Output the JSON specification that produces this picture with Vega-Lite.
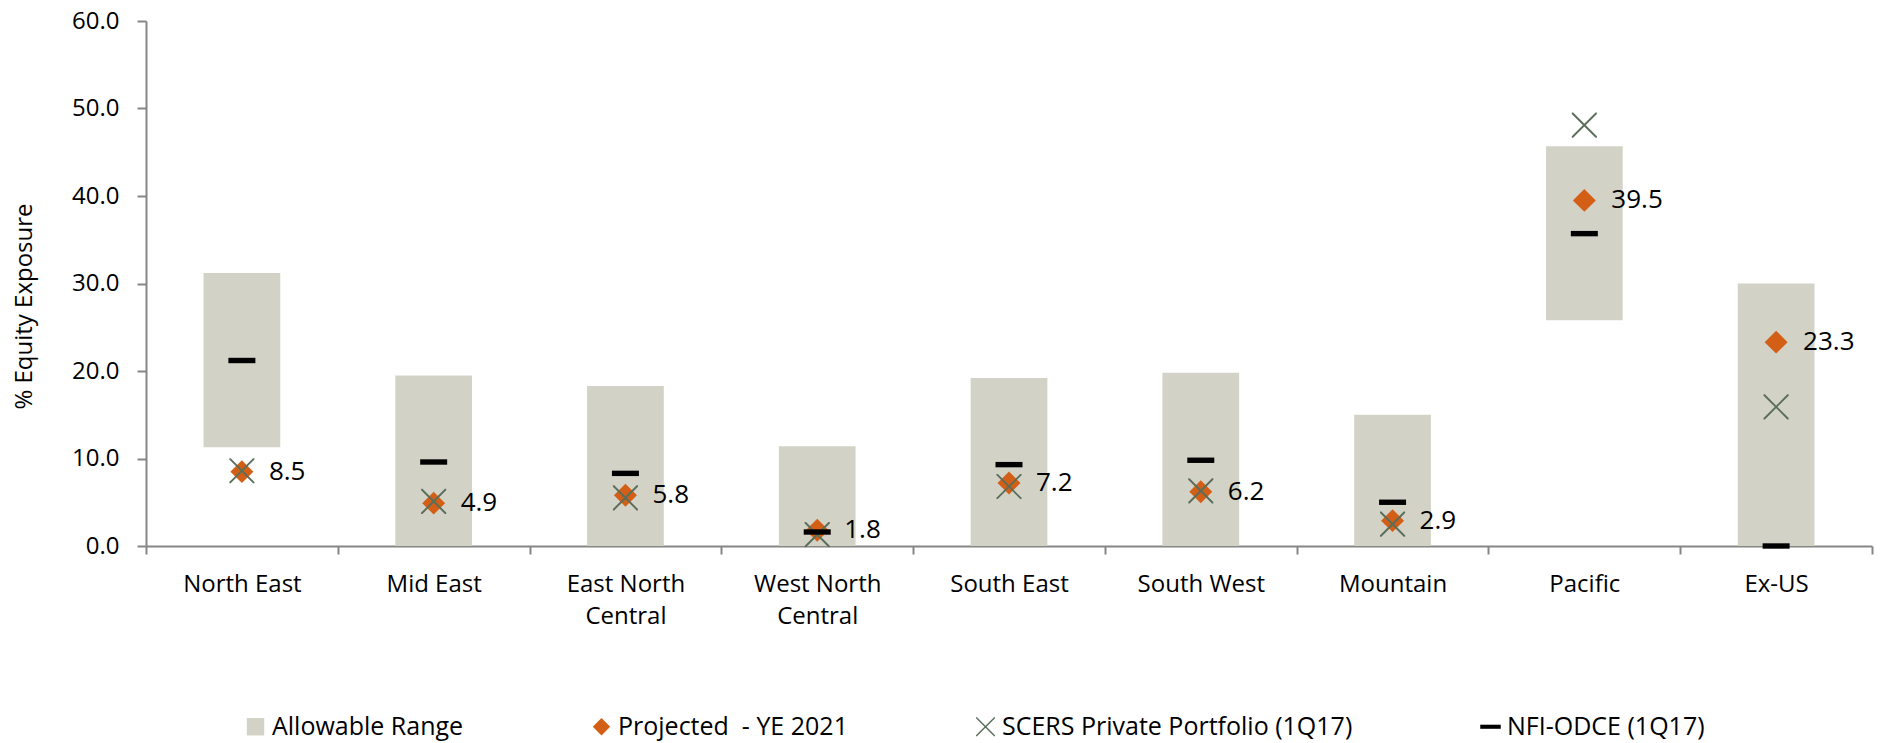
{
  "$schema": "https://vega.github.io/schema/vega-lite/v6.json",
  "width": 1726,
  "height": 525,
  "autosize": {"type": "none"},
  "padding": {"left": 146, "top": 21, "right": 13, "bottom": 197},
  "background": "white",
  "config": {
    "view": {"stroke": null},
    "font": "Open Sans",
    "axis": {"grid": false, "domainColor": "#868686", "tickColor": "#868686", "domainWidth": 2, "tickWidth": 2, "labelColor": "#000000", "titleColor": "#000000", "labelFont": "Open Sans", "titleFont": "Open Sans"},
    "legend": {"padding": 0}
  },
  "datasets": {
    "ranges": [
      {"region": "North East", "low": 11.3, "high": 31.2},
      {"region": "Mid East", "low": 0, "high": 19.5},
      {"region": "East North Central", "low": 0, "high": 18.3},
      {"region": "West North Central", "low": 0, "high": 11.4},
      {"region": "South East", "low": 0, "high": 19.2},
      {"region": "South West", "low": 0, "high": 19.8},
      {"region": "Mountain", "low": 0, "high": 15.0},
      {"region": "Pacific", "low": 25.8, "high": 45.7},
      {"region": "Ex-US", "low": 0, "high": 30.0}
    ],
    "points": [
      {"region": "North East", "series": "Projected\u00a0 - YE 2021", "value": 8.5},
      {"region": "Mid East", "series": "Projected\u00a0 - YE 2021", "value": 4.9},
      {"region": "East North Central", "series": "Projected\u00a0 - YE 2021", "value": 5.8},
      {"region": "West North Central", "series": "Projected\u00a0 - YE 2021", "value": 1.8},
      {"region": "South East", "series": "Projected\u00a0 - YE 2021", "value": 7.2},
      {"region": "South West", "series": "Projected\u00a0 - YE 2021", "value": 6.2},
      {"region": "Mountain", "series": "Projected\u00a0 - YE 2021", "value": 2.9},
      {"region": "Pacific", "series": "Projected\u00a0 - YE 2021", "value": 39.5},
      {"region": "Ex-US", "series": "Projected\u00a0 - YE 2021", "value": 23.3},
      {"region": "North East", "series": "SCERS Private Portfolio (1Q17)", "value": 8.6},
      {"region": "Mid East", "series": "SCERS Private Portfolio (1Q17)", "value": 5.1},
      {"region": "East North Central", "series": "SCERS Private Portfolio (1Q17)", "value": 5.5},
      {"region": "West North Central", "series": "SCERS Private Portfolio (1Q17)", "value": 1.3},
      {"region": "South East", "series": "SCERS Private Portfolio (1Q17)", "value": 6.8},
      {"region": "South West", "series": "SCERS Private Portfolio (1Q17)", "value": 6.3},
      {"region": "Mountain", "series": "SCERS Private Portfolio (1Q17)", "value": 2.5},
      {"region": "Pacific", "series": "SCERS Private Portfolio (1Q17)", "value": 48.1},
      {"region": "Ex-US", "series": "SCERS Private Portfolio (1Q17)", "value": 15.9},
      {"region": "North East", "series": "NFI-ODCE (1Q17)", "value": 21.2},
      {"region": "Mid East", "series": "NFI-ODCE (1Q17)", "value": 9.6},
      {"region": "East North Central", "series": "NFI-ODCE (1Q17)", "value": 8.3},
      {"region": "West North Central", "series": "NFI-ODCE (1Q17)", "value": 1.6},
      {"region": "South East", "series": "NFI-ODCE (1Q17)", "value": 9.3},
      {"region": "South West", "series": "NFI-ODCE (1Q17)", "value": 9.8},
      {"region": "Mountain", "series": "NFI-ODCE (1Q17)", "value": 5.0},
      {"region": "Pacific", "series": "NFI-ODCE (1Q17)", "value": 35.7},
      {"region": "Ex-US", "series": "NFI-ODCE (1Q17)", "value": 0.0}
    ]
  },
  "encoding": {
    "x": {
      "field": "region",
      "type": "nominal",
      "sort": null,
      "scale": {"domain": ["North East", "Mid East", "East North Central", "West North Central", "South East", "South West", "Mountain", "Pacific", "Ex-US"], "paddingInner": 0, "paddingOuter": 0},
      "axis": {
        "title": null,
        "labelAngle": 0,
        "labelFontSize": 24,
        "labelPadding": 18,
        "labelLineHeight": 32,
        "tickBand": "extent",
        "tickSize": 8,
        "labelExpr": "datum.value == 'East North Central' ? ['East North', 'Central'] : datum.value == 'West North Central' ? ['West North', 'Central'] : datum.value"
      }
    }
  },
  "layer": [
    {
      "data": {"name": "ranges"},
      "mark": {"type": "bar", "color": "#d3d2c6", "width": {"band": 0.4}},
      "encoding": {
        "y": {
          "field": "low",
          "type": "quantitative",
          "scale": {"domain": [0, 60], "nice": false, "zero": true},
          "axis": {
            "title": "% Equity Exposure",
            "titleFontSize": 24,
            "titleFontWeight": "normal",
            "titleX": -122,
            "titleY": 285,
            "titleBaseline": "middle",
            "values": [0, 10, 20, 30, 40, 50, 60],
            "format": ".1f",
            "labelFontSize": 24,
            "labelPadding": 18,
            "tickSize": 9
          }
        },
        "y2": {"field": "high"}
      }
    },
    {
      "data": {"name": "points"},
      "mark": {"type": "point", "filled": true, "opacity": 1, "size": 729, "strokeWidth": 0},
      "encoding": {
        "y": {"field": "value", "type": "quantitative"},
        "shape": {
          "field": "series",
          "type": "nominal",
          "scale": {
            "domain": ["Allowable Range", "Projected\u00a0 - YE 2021", "SCERS Private Portfolio (1Q17)", "NFI-ODCE (1Q17)"],
            "range": [
              "M-0.85,-0.85H0.85V0.85H-0.85Z",
              "M0,-0.85L0.85,0L0,0.85L-0.85,0Z",
              "M-0.93,-0.93L-0.83,-0.93L0.93,0.83L0.93,0.93L0.83,0.93L-0.93,-0.83ZM0.93,-0.93L0.93,-0.83L-0.83,0.93L-0.93,0.93L-0.93,0.83L0.83,-0.93Z",
              "M-1,-0.2H1V0.2H-1Z"
            ]
          },
          "legend": {
            "title": null,
            "orient": "none",
            "direction": "horizontal",
            "legendX": 97,
            "legendY": 693,
            "labelFontSize": 25,
            "labelFont": "Open Sans",
            "labelColor": "#000000",
            "symbolSize": 420,
            "symbolStrokeWidth": 0,
            "labelOffset": 4,
            "columnPadding": 125,
            "labelLimit": 600
          }
        },
        "color": {
          "field": "series",
          "type": "nominal",
          "scale": {
            "domain": ["Allowable Range", "Projected\u00a0 - YE 2021", "SCERS Private Portfolio (1Q17)", "NFI-ODCE (1Q17)"],
            "range": ["#d3d2c6", "#d35f17", "#5a6e5a", "#000000"]
          },
          "legend": {
            "title": null,
            "orient": "none",
            "direction": "horizontal",
            "legendX": 97,
            "legendY": 693,
            "labelFontSize": 25,
            "labelFont": "Open Sans",
            "labelColor": "#000000",
            "symbolSize": 420,
            "symbolStrokeWidth": 0,
            "labelOffset": 4,
            "columnPadding": 125,
            "labelLimit": 600
          }
        }
      }
    },
    {
      "data": {"name": "points"},
      "transform": [{"filter": "datum.series == 'Projected\u00a0 - YE 2021'"}],
      "mark": {"type": "text", "align": "left", "baseline": "middle", "dx": 27, "fontSize": 26, "font": "Open Sans", "color": "#000000"},
      "encoding": {
        "y": {"field": "value", "type": "quantitative"},
        "text": {"field": "value", "type": "quantitative", "format": ".1f"}
      }
    }
  ]
}
